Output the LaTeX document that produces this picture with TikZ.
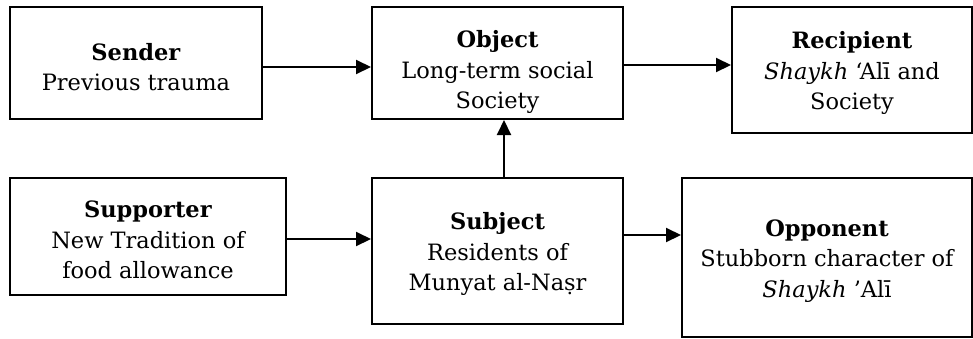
\documentclass[tikz,border=0pt]{standalone}
\usepackage{fontspec}
\setmainfont{DejaVu Serif}
\usetikzlibrary{arrows.meta}

\tikzset{
  box/.style={draw, line width=2pt, inner sep=0pt},
  txt/.style={align=center, font=\fontsize{22.5}{30.5}\selectfont, inner sep=0pt},
  arr/.style={line width=2pt, -{Triangle[length=15pt,width=14pt]}}
}

\begin{document}
\begin{tikzpicture} [x=1pt,y=-1pt]
\useasboundingbox (0,0) rectangle (973,338);

% the upper row
\node [box, minimum width=252pt, minimum height=112pt] (sender) at (136,63) {};
\node [txt] (sendertext) at (136,67) {\textbf{Sender}\\Previous trauma};

\node [box, minimum width=251pt, minimum height=112pt] (object) at (497.5,63) {};
\node [txt] (objecttext) at (497.5,72) {\textbf{Object}\\Long-term social\\Society};

\node [box, minimum width=240pt, minimum height=126pt] (recipient) at (852,70) {};
\node [txt] (recipienttext) at (852,73) {\textbf{Recipient}\\\textit{Shaykh} ‘Alī and\\Society};


% the lower row
\node [box, minimum width=276pt, minimum height=117pt] (supporter) at (148,236.5) {};
\node [txt] (supportertext) at (148,240) {\textbf{Supporter}\\New Tradition of\\food allowance};

\node [box, minimum width=251pt, minimum height=146pt] (subject) at (497.5,251) {};
\node [txt] (subjecttext) at (497.5,254) {\textbf{Subject}\\Residents of\\Munyat al-Naṣr};

\node [box, minimum width=290pt, minimum height=159pt] (opponent) at (827,257.5) {};
\node [txt] (opponenttext) at (827,261) {\textbf{Opponent}\\Stubborn character of\\\textit{Shaykh} ’Alī};


\draw 
[arr] 
([yshift=-4pt]sender.east) -- ([yshift=-4pt]sender.east -| object.west);
\draw 
[arr] 
([yshift=-2pt]object.east) -- ([yshift=-2pt]object.east -| recipient.west);
\draw 
[arr] 
([xshift=6.5pt]subject.north) -- ([xshift=6.5pt]subject.north |- object.south);
\draw 
[arr] 
([yshift=-2.5pt]supporter.east) -- ([yshift=-2.5pt]supporter.east -| subject.west);
\draw 
[arr] 
([yshift=16pt]subject.east) -- ([yshift=16pt]subject.east -| opponent.west);


%\draw [help lines,step=50] (0,0) grid (973,338);
\end{tikzpicture}
\end{document}
